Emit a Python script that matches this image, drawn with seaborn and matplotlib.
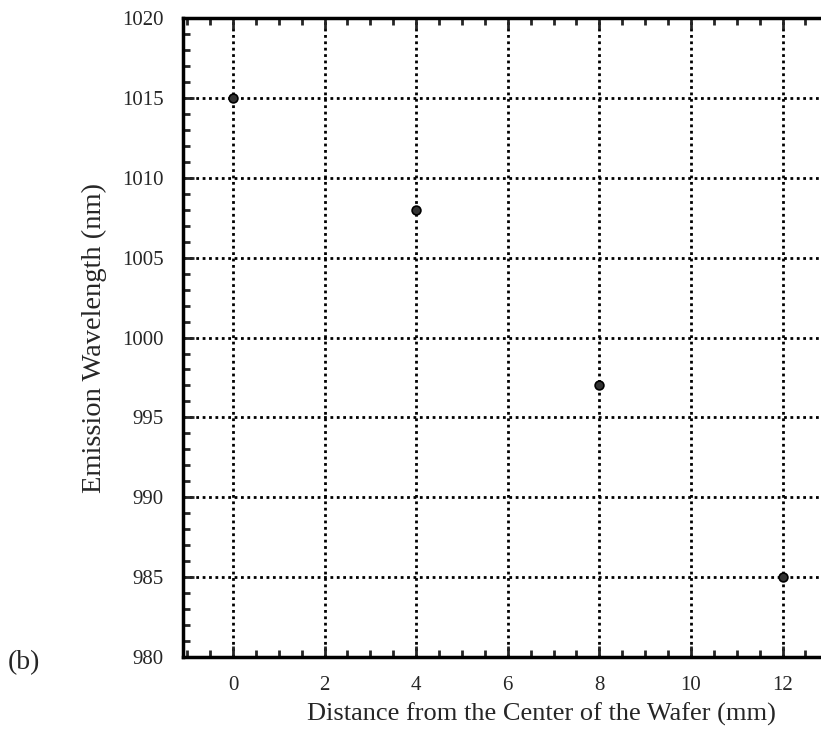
import seaborn as sns
import pandas as pd
import matplotlib.pyplot as plt
from matplotlib.ticker import MultipleLocator

distance = [0, 4, 8, 12]
wavelength = [1015, 1008, 997, 985]
x_ticks = [0, 2, 4, 6, 8, 10, 12]
y_ticks = [980, 985, 990, 995, 1000, 1005, 1010, 1015, 1020]

sns.set_style('ticks')
plt.rcParams['font.family'] = ['Liberation Serif', 'DejaVu Serif']
plt.rcParams['xtick.direction'] = 'in'
plt.rcParams['ytick.direction'] = 'in'

df = pd.DataFrame({'Distance': distance, 'Wavelength': wavelength})

fig = plt.figure(figsize=(8.21, 7.33), dpi=100)
# axes runs off the right edge of the figure, like the cropped scan
ax = fig.add_axes([0.223, 0.104, 0.777, 0.871])

sns.scatterplot(data=df, x='Distance', y='Wavelength', ax=ax, s=40,
                color='#333333', edgecolor='black', linewidth=1.2, zorder=3,
                clip_on=False)

ax.set_xlim(-1.09, 12.84)
ax.set_ylim(980, 1020)
ax.set_xticks(x_ticks)
ax.set_yticks(y_ticks)
ax.xaxis.set_minor_locator(MultipleLocator(0.5))
ax.yaxis.set_minor_locator(MultipleLocator(1))
ax.tick_params(which='major', length=8, width=2, labelsize=15, top=True, right=False)
ax.tick_params(axis='x', which='major', pad=14)
ax.tick_params(axis='y', which='major', pad=14)
ax.tick_params(which='minor', length=5, width=2, top=True, right=False)
ax.grid(True, which='major', ls=(0, (1, 1.3)), c='black', lw=2)

for side in ['left', 'top', 'bottom']:
    ax.spines[side].set_linewidth(2.5)
    ax.spines[side].set_color('black')
ax.spines['right'].set_visible(False)

ax.set_xlabel('Distance from the Center of the Wafer (mm)', fontsize=19)
ax.xaxis.label.set_va('center')
ax.xaxis.set_label_coords((541 - 183) / 638, -(715 - 657) / 639)
ax.set_ylabel('Emission Wavelength (nm)', fontsize=20.5, labelpad=11)
fig.text(0.01, 1 - 663 / 733, '(b)', fontsize=20, va='center')

fig.savefig('out.png', dpi=100)
